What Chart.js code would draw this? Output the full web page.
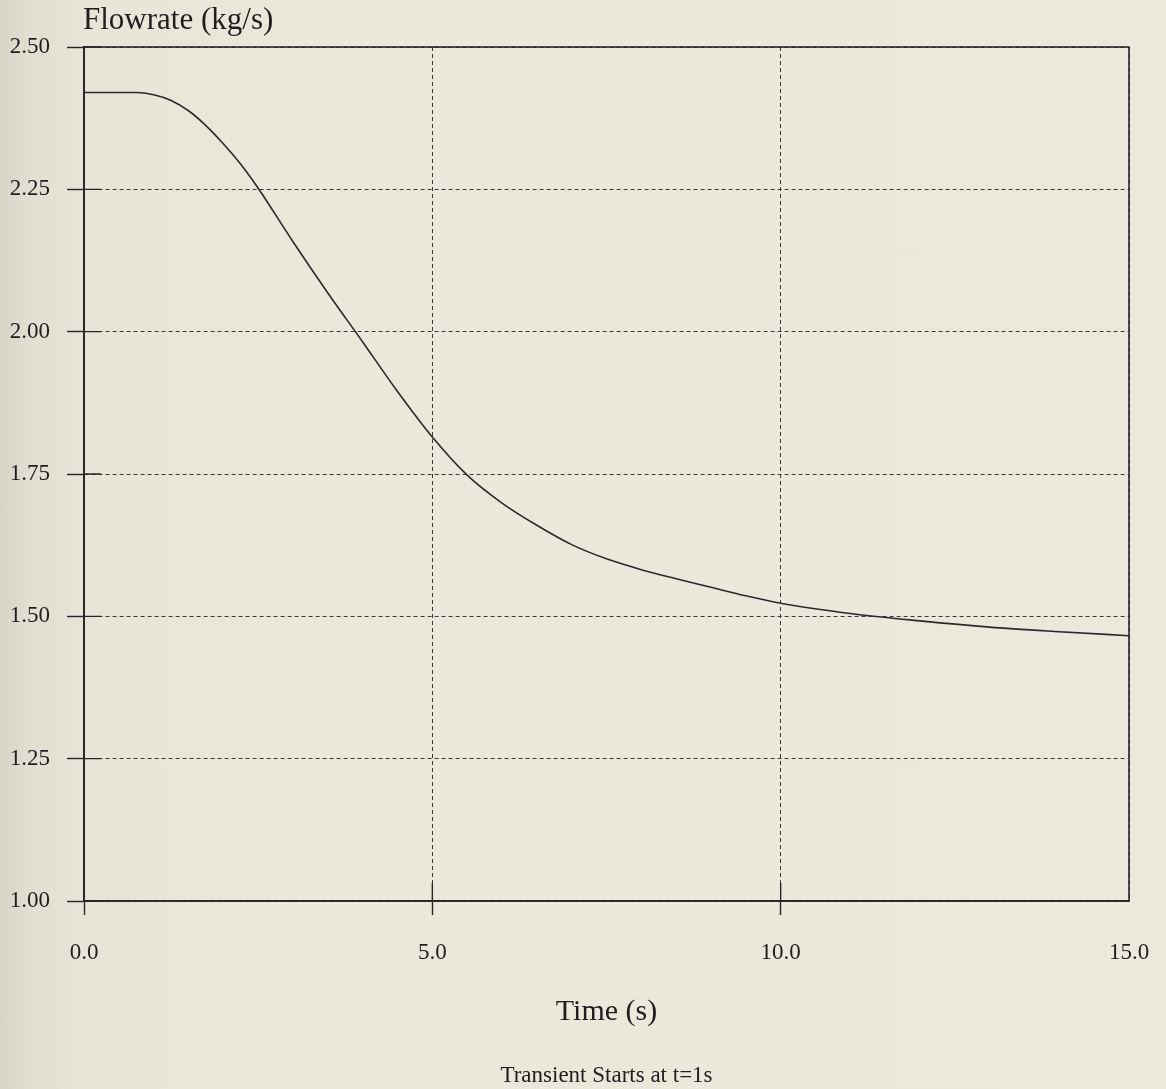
<!DOCTYPE html>
<html>
<head>
<meta charset="utf-8">
<script src="https://cdn.jsdelivr.net/npm/chart.js@4/dist/chart.umd.min.js"></script>
<style>
  html, body { margin: 0; padding: 0; }
  body {
    width: 1166px; height: 1089px; overflow: hidden;
    background: linear-gradient(to right, #d6d5c6 0px, #e0dfd1 30px, #e7e5d8 90px, #eae7db 300px, #ebe8dc 1166px);
  }
  #wrap { position: absolute; left: 0; top: 0; width: 1166px; height: 1089px; }
</style>
</head>
<body>
<div id="wrap"><canvas id="c" width="1166" height="1089"></canvas></div>
<script>
// ---- data ----
const timeValues = [0, 0.5, 0.75, 1, 1.25, 1.5, 1.75, 2, 2.25, 2.5, 3, 3.5, 4, 4.5, 5, 5.5, 6, 6.5, 7, 7.5, 8, 8.5, 9, 9.5, 10, 11, 12, 13, 14, 15];
const flowValues = [2.420, 2.420, 2.420, 2.416, 2.406, 2.388, 2.362, 2.330, 2.294, 2.252, 2.158, 2.068, 1.982, 1.895, 1.815, 1.748, 1.699, 1.660, 1.626, 1.601, 1.582, 1.566, 1.551, 1.536, 1.523, 1.505, 1.492, 1.481, 1.473, 1.466];
const xTicks = [0, 5, 10, 15];
const yTicks = [1.00, 1.25, 1.50, 1.75, 2.00, 2.25, 2.50];
const yAxisLabel = 'Flowrate (kg/s)';
const xAxisLabel = 'Time (s)';
const footNote = 'Transient Starts at t=1s';

const INK = '#262626';
const SERIF = '"Liberation Serif", "Times New Roman", serif';

const points = timeValues.map((t, i) => ({ x: t, y: flowValues[i] }));

const decor = {
  id: 'decor',
  afterDraw(chart) {
    const { ctx, chartArea: a, scales } = chart;
    ctx.save();
    // solid frame
    ctx.strokeStyle = INK;
    ctx.lineWidth = 1.6;
    ctx.setLineDash([]);
    ctx.strokeRect(a.left, a.top, a.right - a.left, a.bottom - a.top);
    // inner halves of tick marks
    ctx.lineWidth = 1.4;
    ctx.beginPath();
    yTicks.forEach(v => {
      const y = scales.y.getPixelForValue(v);
      ctx.moveTo(a.left, y); ctx.lineTo(a.left + 17, y);
    });
    xTicks.slice(1, -1).forEach(v => {
      const x = scales.x.getPixelForValue(v);
      ctx.moveTo(x, a.bottom); ctx.lineTo(x, a.bottom - 18);
    });
    ctx.stroke();
    // texts
    ctx.fillStyle = '#1e1e1e';
    ctx.textBaseline = 'alphabetic';
    ctx.font = '31px ' + SERIF;
    ctx.textAlign = 'left';
    ctx.fillText(yAxisLabel, 83, 29);
    const cx = (a.left + a.right) / 2;
    ctx.textAlign = 'center';
    ctx.font = '30px ' + SERIF;
    ctx.fillText(xAxisLabel, cx, 1020);
    ctx.font = '23px ' + SERIF;
    ctx.fillText(footNote, cx, 1082);
    ctx.restore();
  }
};

new Chart(document.getElementById('c'), {
  type: 'line',
  data: {
    datasets: [{
      data: points,
      borderColor: '#2a2a2a',
      borderWidth: 1.6,
      pointRadius: 0,
      fill: false,
      cubicInterpolationMode: 'monotone'
    }]
  },
  options: {
    responsive: false,
    animation: false,
    devicePixelRatio: 1,
    layout: { padding: { left: 0, top: 47, right: 37, bottom: 0 } },
    plugins: { legend: { display: false }, tooltip: { enabled: false }, title: { display: false } },
    scales: {
      x: {
        type: 'linear',
        min: 0, max: 15,
        afterBuildTicks(scale) { scale.ticks = xTicks.map(v => ({ value: v })); },
        afterFit(scale) { scale.height = 188; scale.paddingLeft = 0; scale.paddingRight = 0; },
        ticks: {
          color: '#1e1e1e',
          font: { family: SERIF, size: 23 },
          padding: 24,
          maxRotation: 0,
          callback: v => Number(v).toFixed(1)
        },
        grid: {
          color: '#3a3a3a',
          lineWidth: 1,
          tickLength: 14,
          tickColor: ctx => (ctx.tick && ctx.tick.value === 15) ? 'rgba(0,0,0,0)' : INK,
          tickWidth: 1.4,
          tickBorderDash: []
        },
        border: { display: true, color: INK, width: 1.6, dash: [4, 3] }
      },
      y: {
        type: 'linear',
        min: 1, max: 2.5,
        afterBuildTicks(scale) { scale.ticks = yTicks.map(v => ({ value: v })); },
        afterFit(scale) { scale.width = 84; scale.paddingTop = 0; scale.paddingBottom = 0; },
        ticks: {
          color: '#1e1e1e',
          font: { family: SERIF, size: 23 },
          padding: 17,
          callback: v => Number(v).toFixed(2)
        },
        grid: {
          color: '#3a3a3a',
          lineWidth: 1,
          tickLength: 17,
          tickColor: INK,
          tickWidth: 1.4,
          tickBorderDash: []
        },
        border: { display: true, color: INK, width: 1.6, dash: [4, 3] }
      }
    }
  },
  plugins: [decor]
});
</script>
</body>
</html>
